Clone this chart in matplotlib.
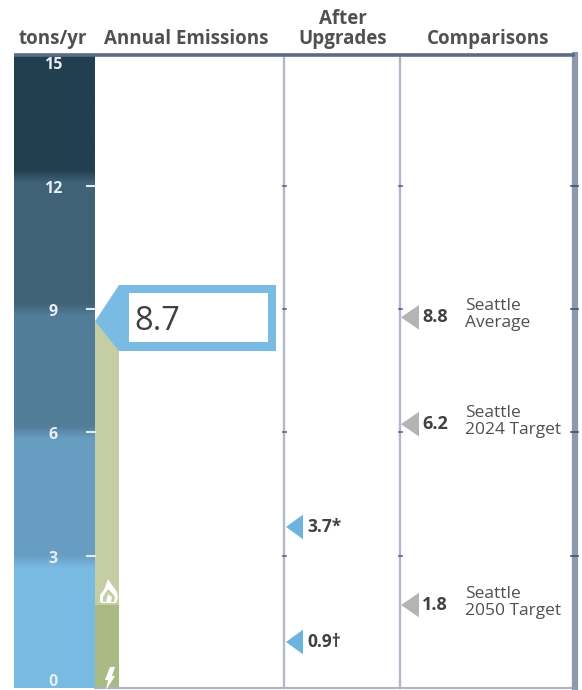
import numpy as np
import matplotlib
matplotlib.use('Agg')
import matplotlib.pyplot as plt
from matplotlib.colors import LinearSegmentedColormap
from matplotlib.patches import Polygon, Rectangle

tick_values = [0, 3, 6, 9, 12, 15]
band_edges = [12.25, 9.0, 6.0, 2.85]
band_colors = ['#223f50', '#3f6276', '#527d99', '#689dc2', '#79bae2']
electric = 1.8
total = 8.7
upgrades = [3.7, 0.9]
upgrade_labels = ['3.7*', '0.9†']
compare = [8.8, 6.2, 1.8]
compare_names = ['Seattle\nAverage', 'Seattle\n2024 Target', 'Seattle\n2050 Target']

W, H = 582, 690
ZERO, PER_UNIT = 679.0, 41.1
TOP, BOTTOM = 55, 688

def yp(px):
    # pixel row to axis value, for layout only
    return (ZERO - px) / PER_UNIT

plt.rcParams['font.family'] = ['Open Sans', 'DejaVu Sans']
fig = plt.figure(figsize=(W / 100, H / 100), dpi=100)
ax = fig.add_axes([0, 0, 1, 1])
ax.axis('off')

# background scale, soft edges between the bands
vals = np.linspace(yp(BOTTOM), yp(TOP), 400)
idx = np.zeros(len(vals))
for e in band_edges:
    idx += (1 - np.clip((vals - e) / 0.3 + 0.5, 0, 1))
cmap = LinearSegmentedColormap.from_list('bands', band_colors)
ax.imshow(idx[:, None], cmap=cmap, vmin=0, vmax=4, origin='lower', aspect='auto',
          extent=(14, 95, yp(BOTTOM), yp(TOP)), zorder=1)
ax.set_xlim(0, W)
ax.set_ylim(yp(H), yp(0))

# stacked emissions
ax.add_patch(Rectangle((95, yp(BOTTOM)), 24, electric - yp(BOTTOM), color='#a9ba82', lw=0, zorder=2))
ax.add_patch(Polygon([(95, electric), (119, electric), (119, total - 0.7), (95, total)],
                     color='#c5cda5', lw=0, zorder=2))

# icons
ax.add_patch(Polygon([(100, yp(602)), (100, yp(595)), (104, yp(590)), (108, yp(579)), (112, yp(585)),
                      (117, yp(592)), (118, yp(598)), (116, yp(603)), (102, yp(603))],
                     color='white', lw=0, zorder=3))
ax.add_patch(Polygon([(103, yp(602)), (103, yp(597)), (108, yp(589)), (112, yp(593)), (115, yp(597)),
                      (114, yp(602)), (111, yp(602)), (112, yp(597)), (108, yp(594)), (106, yp(602))],
                     color='#c5cda5', lw=0, zorder=3))
ax.add_patch(Polygon([(110, yp(667)), (115, yp(667)), (112, yp(676)), (115, yp(676)), (106, yp(690)),
                      (108, yp(680)), (105, yp(680))], color='white', lw=0, zorder=3))

# rails
ax.plot([14, 575], [yp(TOP)] * 2, color='#5b6b84', lw=2.6, zorder=4, solid_capstyle='butt')
ax.plot([95, 575], [yp(BOTTOM)] * 2, color='#aeb2c4', lw=1.5, zorder=2)
for x in [284, 400]:
    ax.plot([x, x], [yp(BOTTOM), yp(TOP)], color='#b4b7cb', lw=1.7, zorder=2)
ax.plot([575, 575], [yp(BOTTOM), yp(TOP)], color='#8d99af', lw=4.5, zorder=2)

# ticks and scale labels
for v in tick_values:
    ax.text(53, v - 0.07, str(v), color='#e8eff4', fontsize=11.5, fontweight='bold',
            ha='center', va='center', zorder=5)
    if 0 < v < 15:
        ax.plot([87, 95], [v, v], color='#e4ebf0', lw=1.5, zorder=3)
        ax.plot([282.5, 285.5], [v, v], color='#5b6480', lw=1.2, zorder=3)
        ax.plot([398.5, 401.5], [v, v], color='#5b6480', lw=1.2, zorder=3)
        ax.plot([571, 578], [v, v], color='#46506a', lw=1.2, zorder=3)

# callout
ax.add_patch(Polygon([(95, total), (119, yp(285)), (276, yp(285)), (276, yp(351)), (119, yp(351))],
                     color='#79bbe3', lw=0, zorder=3))
ax.add_patch(Rectangle((129, yp(342)), 139, yp(293) - yp(342), color='white', lw=0, zorder=4))
ax.text(134, yp(321), '8.7', fontsize=23.5, color='#404040', ha='left', va='center', zorder=5)

# markers, After Upgrades
for v, s in zip(upgrades, upgrade_labels):
    ax.add_patch(Polygon([(286, v), (303, v + 0.3), (303, v - 0.3)], color='#6cb4de', lw=0, zorder=3))
    ax.text(307, v, s, fontsize=12.5, fontweight='bold', color='#404040', ha='left', va='center')

# markers, Comparisons
for v, s in zip(compare, compare_names):
    ax.add_patch(Polygon([(401, v), (419, v + 0.3), (419, v - 0.3)], color='#b4b4b4', lw=0, zorder=3))
    ax.text(422, v, '%.1f' % v, fontsize=13, fontweight='bold', color='#404040', ha='left', va='center')
    ax.text(465, v + 0.07, s, fontsize=12.5, color='#505050', ha='left', va='center', linespacing=1.08)

# headers
for x, py, s in [(53, 39, 'tons/yr'), (186, 39, 'Annual Emissions'), (343, 29, 'After\nUpgrades'), (488, 39, 'Comparisons')]:
    ax.text(x, yp(py), s, fontsize=13.5, fontweight='bold', color='#505050', ha='center', va='center', linespacing=1.0)

fig.savefig('out.png', dpi=100)
